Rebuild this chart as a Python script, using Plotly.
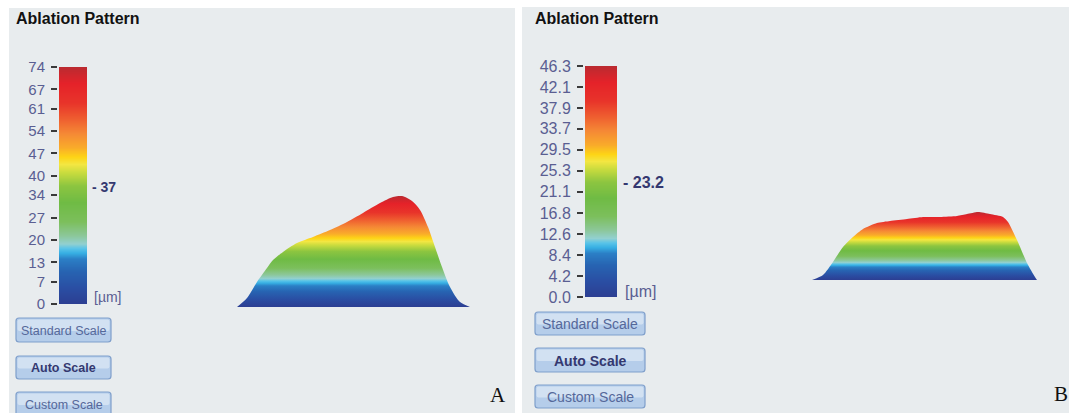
import plotly.graph_objects as go

W, H = 1069, 413

# ---------------- data ----------------
scale_a_ticks = [0, 7, 13, 20, 27, 34, 40, 47, 54, 61, 67, 74]
scale_a_labels = ["0", "7", "13", "20", "27", "34", "40", "47", "54", "61", "67", "74"]
scale_a_mid = 37

scale_b_ticks = [0.0, 4.2, 8.4, 12.6, 16.8, 21.1, 25.3, 29.5, 33.7, 37.9, 42.1, 46.3]
scale_b_labels = ["0.0", "4.2", "8.4", "12.6", "16.8", "21.1", "25.3", "29.5", "33.7", "37.9", "42.1", "46.3"]
scale_b_mid = 23.2

profile_a_pos = [0, 10, 20, 30, 36, 46, 60, 76, 93, 110, 126, 143, 156, 165, 175, 183, 191, 198, 205, 213, 223, 233]
profile_a_depth = [0, 6, 16.7, 26, 31.3, 36.7, 42.7, 46.7, 51.3, 56.7, 62.7, 69.3, 73.3, 74,
                   70.7, 64.7, 53.3, 40, 26.7, 13.3, 3.3, 0]

profile_b_pos = [0, 11, 21, 31, 41, 51, 65, 78, 95, 111, 128, 145, 155, 166, 178, 191, 196, 205, 215, 223, 225]
profile_b_depth = [0, 3.4, 12.3, 22.5, 29.3, 34.7, 38.8, 40.2, 41.5, 42.9, 42.9, 43.6, 44.9, 46.3,
                   44.9, 42.9, 39.5, 27.2, 11.6, 2, 0]

buttons = ["Standard Scale", "Auto Scale", "Custom Scale"]

# ---------------- style ----------------
colorscale = [
    [0.00, '#2c3e92'], [0.07, '#2a4ea3'], [0.14, '#2764b2'], [0.19, '#2b7fc6'],
    [0.215, '#36aee3'], [0.235, '#58c3e8'], [0.255, '#92d0d0'], [0.29, '#8cc79a'],
    [0.35, '#7cbf5c'], [0.43, '#6fbb44'], [0.50, '#8cc540'], [0.555, '#c8db3e'],
    [0.59, '#f3e642'], [0.62, '#fdd416'], [0.66, '#f9ab2a'], [0.72, '#f58935'],
    [0.78, '#ef6030'], [0.85, '#e8342a'], [0.93, '#e52229'], [1.00, '#bb2a30'],
]
BG = '#e8ecee'
TICKCOL = '#5a5e92'
NAVY = '#343870'
SANS = "Liberation Sans, Arial, sans-serif"


def px(x):
    return x / W


def py(y):
    return 1 - y / H


fig = go.Figure()

# colour scale bars (heatmaps of the scale levels)
fig.add_trace(go.Heatmap(
    x=[0], y=scale_a_ticks, z=[[v] for v in scale_a_ticks],
    colorscale=colorscale, zmin=0, zmax=scale_a_ticks[-1], zsmooth='best',
    showscale=False, hoverinfo='skip', xaxis='x', yaxis='y'))
fig.add_trace(go.Heatmap(
    x=[0], y=scale_b_ticks, z=[[v] for v in scale_b_ticks],
    colorscale=colorscale, zmin=0, zmax=scale_b_ticks[-1], zsmooth='best',
    showscale=False, hoverinfo='skip', xaxis='x2', yaxis='y2'))

# ablation profiles
fig.add_trace(go.Scatter(
    x=profile_a_pos, y=profile_a_depth, mode='lines', fill='tozeroy',
    line=dict(width=0, shape='spline', smoothing=0.8, color='rgba(0,0,0,0)'),
    fillgradient=dict(type='vertical', colorscale=colorscale, start=0, stop=max(profile_a_depth)),
    hoverinfo='skip', xaxis='x3', yaxis='y3'))
fig.add_trace(go.Scatter(
    x=profile_b_pos, y=profile_b_depth, mode='lines', fill='tozeroy',
    line=dict(width=0, shape='spline', smoothing=0.6, color='rgba(0,0,0,0)'),
    fillgradient=dict(type='vertical', colorscale=colorscale, start=0, stop=max(profile_b_depth)),
    hoverinfo='skip', xaxis='x4', yaxis='y4'))

hidden_x = dict(visible=False, showgrid=False, zeroline=False, automargin=False)


def scale_axis(top, bottom, left, ticks, labels, size):
    return dict(domain=[py(bottom), py(top)], range=[0, ticks[-1]], anchor='free',
                position=px(left), side='left', tickvals=ticks, ticktext=labels,
                ticks='outside', ticklen=6, tickwidth=2, tickcolor='#3a3a3a',
                ticklabelstandoff=3, automargin=False,
                tickfont=dict(family=SANS, size=size, color=TICKCOL),
                showgrid=False, zeroline=False, showline=False, fixedrange=True)


fig.update_layout(
    width=W, height=H, margin=dict(l=0, r=0, t=0, b=0, pad=0, autoexpand=False),
    paper_bgcolor='white', plot_bgcolor='rgba(0,0,0,0)', showlegend=False,
    xaxis=dict(domain=[px(59), px(87)], range=[-0.5, 0.5], anchor='y', **hidden_x),
    yaxis=scale_axis(67, 304, 57, scale_a_ticks, scale_a_labels, 15),
    xaxis2=dict(domain=[px(585), px(617)], range=[-0.5, 0.5], anchor='y2', **hidden_x),
    yaxis2=scale_axis(66, 297, 583, scale_b_ticks, scale_b_labels, 16),
    xaxis3=dict(domain=[px(237), px(470)], range=[0, profile_a_pos[-1]], anchor='y3', **hidden_x),
    yaxis3=dict(domain=[py(307), py(196)], range=[0, max(profile_a_depth)], anchor='x3', **hidden_x),
    xaxis4=dict(domain=[px(812), px(1037)], range=[0, profile_b_pos[-1]], anchor='y4', **hidden_x),
    yaxis4=dict(domain=[py(280), py(212)], range=[0, max(profile_b_depth)], anchor='x4', **hidden_x),
)

shapes = [
    dict(type='rect', xref='paper', yref='paper', x0=px(9), x1=px(515), y0=0, y1=py(8),
         fillcolor=BG, line=dict(width=0), layer='below'),
    dict(type='rect', xref='paper', yref='paper', x0=px(522), x1=1, y0=0, y1=py(7),
         fillcolor=BG, line=dict(width=0), layer='below'),
]
annotations = []


def rounded(x0, x1, y0, y1, r):
    a, b, c, d = px(x0), px(x1), py(y0), py(y1)   # c = top, d = bottom (paper)
    rx, ry = r / W, r / H
    return (f"M{a + rx},{c} L{b - rx},{c} Q{b},{c} {b},{c - ry} L{b},{d + ry} "
            f"Q{b},{d} {b - rx},{d} L{a + rx},{d} Q{a},{d} {a},{d + ry} L{a},{c - ry} "
            f"Q{a},{c} {a + rx},{c} Z")


def add_button(x0, x1, y0, y1, text, bold, size):
    shapes.append(dict(type='path', xref='paper', yref='paper', path=rounded(x0, x1, y0, y1, 3),
                       fillcolor='#b5cdea', line=dict(color='#7f9fcb', width=1.2), layer='below'))
    shapes.append(dict(type='path', xref='paper', yref='paper',
                       path=rounded(x0 + 1.5, x1 - 1.5, y0 + 1.5, (y0 + y1) / 2 + 1, 2),
                       fillcolor='#d2e1f2', line=dict(width=0), layer='below'))
    annotations.append(dict(x=px((x0 + x1) / 2), y=py((y0 + y1) / 2 + 0.5), xref='paper', yref='paper',
                            text=f"<b>{text}</b>" if bold else text, showarrow=False,
                            xanchor='center', yanchor='middle',
                            font=dict(family=SANS, size=size, color=NAVY if bold else '#55689a')))


for i, (yy0, yy1) in enumerate([(318, 342), (356, 379), (392, 416)]):
    add_button(16, 111, yy0, yy1, buttons[i], buttons[i] == "Auto Scale", 12.5)
for i, (yy0, yy1) in enumerate([(312, 335), (348, 372), (385, 408)]):
    add_button(535, 645, yy0, yy1, buttons[i], buttons[i] == "Auto Scale", 14)


def text(x, y, s, size, color, family=SANS, xanchor='left'):
    annotations.append(dict(x=px(x), y=py(y), xref='paper', yref='paper', text=s, showarrow=False,
                            xanchor=xanchor, yanchor='middle',
                            font=dict(family=family, size=size, color=color)))


text(14, 18, "<b>Ablation Pattern</b>", 16, '#111111')
text(533, 18, "<b>Ablation Pattern</b>", 16, '#111111')
text(90, 187, f"<b>- {scale_a_mid:g}</b>", 14, NAVY)
text(621, 183, f"<b>- {scale_b_mid:g}</b>", 16, NAVY)
text(92, 297, "[µm]", 14, TICKCOL)
text(623, 291, "[µm]", 16, TICKCOL)
text(498, 395, "A", 21, '#111111', family="Liberation Serif, Times New Roman, serif", xanchor='center')
text(1061, 394, "B", 21, '#111111', family="Liberation Serif, Times New Roman, serif", xanchor='center')

fig.update_layout(shapes=shapes, annotations=annotations)
fig.write_html("out.html", post_script="document.body.style.margin='0';",
               config={'displayModeBar': False})
